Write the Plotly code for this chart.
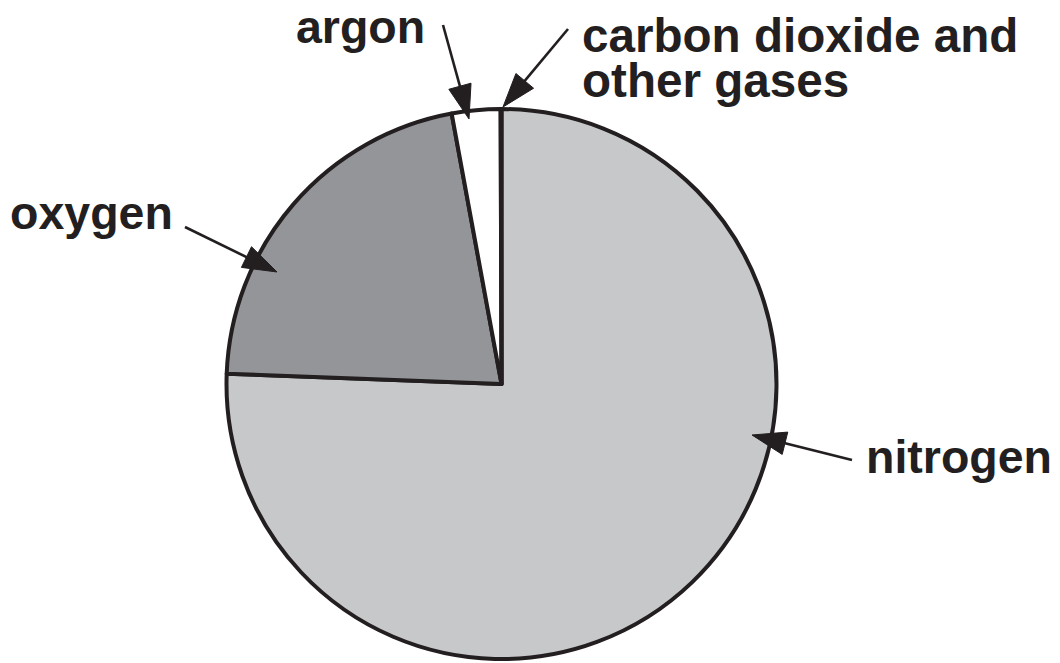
import math
import plotly.graph_objects as go

# Data (approximate shares of air, %)
gases = ["nitrogen", "oxygen", "argon", "carbon dioxide and other gases"]
shares = [75.6, 21.5, 2.85, 0.05]
colors = ["#c7c8ca", "#939598", "#ffffff", "#ffffff"]

W, H = 1060, 663
INK = "#231f20"
FAMILY = "Liberation Sans, Arial, Helvetica, sans-serif"

def px(x):
    return x / W

def py(y):
    return 1 - y / H

cx, cy, r = 501.5, 384, 275

fig = go.Figure(go.Pie(
    labels=gases,
    values=shares,
    sort=False,
    direction="clockwise",
    rotation=0,
    textinfo="none",
    hoverinfo="label+percent",
    showlegend=False,
    marker=dict(colors=colors, line=dict(color=INK, width=4)),
    domain=dict(x=[px(cx - r), px(cx + r)], y=[py(cy + r), py(cy - r)]),
))

# label text: (text, left x px, middle y px, font size)
labels = [
    ("argon", 294, 27, 46.5),
    ("carbon dioxide and", 580, 35, 47.6),
    ("other gases", 580, 80, 47.6),
    ("oxygen", 8, 213, 46.5),
    ("nitrogen", 864, 457, 46.5),
]
annotations = []
for t, x, y, fs in labels:
    annotations.append(dict(
        text="<b>%s</b>" % t, x=px(x), y=py(y), xref="paper", yref="paper",
        xanchor="left", yanchor="middle", showarrow=False,
        font=dict(family=FAMILY, size=fs, color=INK),
    ))

# arrows: tail (px), tip (px)
arrows = [
    ((443, 25), (469, 119)),
    ((568, 29), (503, 107)),
    ((185, 227), (277, 272)),
    ((852, 460), (752, 435)),
]
shapes = []
for (tx, ty), (hx, hy) in arrows:
    L = math.hypot(hx - tx, hy - ty)
    ux, uy = (hx - tx) / L, (hy - ty) / L
    nx, ny = -uy, ux
    hl, hw = 34, 11.5
    bx, by = hx - ux * hl, hy - uy * hl
    shapes.append(dict(type="line", xref="paper", yref="paper",
                       x0=px(tx), y0=py(ty), x1=px(bx + ux * 4), y1=py(by + uy * 4),
                       line=dict(color=INK, width=2.6)))
    p1 = (bx + nx * hw, by + ny * hw)
    p2 = (bx - nx * hw, by - ny * hw)
    path = "M %f,%f L %f,%f L %f,%f Z" % (px(hx), py(hy), px(p1[0]), py(p1[1]), px(p2[0]), py(p2[1]))
    shapes.append(dict(type="path", xref="paper", yref="paper", path=path,
                       fillcolor=INK, line=dict(color=INK, width=1)))

fig.update_layout(
    width=W, height=H,
    margin=dict(l=0, r=0, t=0, b=0),
    paper_bgcolor="white", plot_bgcolor="white",
    annotations=annotations, shapes=shapes,
)

fig.write_html(
    "out.html",
    config={"displayModeBar": False},
    post_script="document.body.style.margin='0';document.body.style.overflow='hidden';",
)
